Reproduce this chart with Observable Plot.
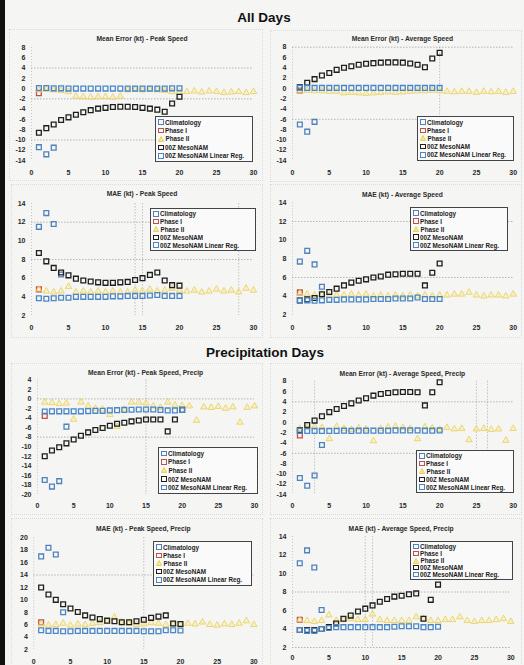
<!DOCTYPE html>
<html><head><meta charset="utf-8">
<script src="https://cdn.jsdelivr.net/npm/d3@7"></script>
<script src="https://cdn.jsdelivr.net/npm/@observablehq/plot@0.6"></script>
<style>
body{margin:0;background:#f5f5f3;width:524px;height:665px;position:relative;overflow:hidden;font-family:"Liberation Sans",Arial,sans-serif;color:#222}
.strip{position:absolute;left:0;top:0;width:5px;height:665px;background:#111}
.sec{position:absolute;font-weight:bold;font-size:13.5px;transform:translate(-50%,-50%);white-space:nowrap;color:#111}
.plot{position:absolute}
.ptitle{position:absolute;font-size:6.7px;font-weight:bold;transform:translate(-50%,-50%);white-space:nowrap;color:#2a2a2a}
.frame{position:absolute;border:1px dotted #dcdcdc}
.legend{position:absolute;border:1px solid #444;background:#fafafa;font-size:6.3px;font-weight:bold;box-sizing:border-box;display:flex;flex-direction:column;justify-content:space-around;padding:1px 2px;color:#1a1a1a}
.li{display:flex;align-items:center;white-space:nowrap;line-height:7px}
.sw{display:inline-block;width:3.5px;height:3.5px;border:1.2px solid;margin-right:1.5px}
.tri{margin-right:1.5px}
</style></head>
<body>
<div class="strip"></div>
<script>
// ---------- data ----------
const xTicks = [0, 5, 10, 15, 20, 25, 30];
const seriesNames = ["Climatology", "Phase I", "Phase II", "00Z MesoNAM", "00Z MesoNAM Linear Reg."];

// All Days – Mean Error, Peak Speed
const mePeakClim = [-11.4, -12.8, -11.5];
const mePeakPhase1 = [-0.9];
const mePeakPhase2 = [-0.3,-0.2,-0.3,-0.4,-0.6,-1.5,-1.6,-1.7,-1.6,-1.6,-1.7,-1.5,-0.3,-0.2,-0.3,-0.2,-0.3,-0.4,-0.6,-0.7,-0.6,-0.5,-0.7,-0.5,-0.6,-0.8,-0.7,-0.6,-0.8,-0.6];
const mePeakMeso = [-8.6,-7.7,-7.0,-6.1,-5.6,-5.1,-4.6,-4.2,-3.9,-3.75,-3.6,-3.55,-3.55,-3.6,-3.75,-3.9,-4.1,-4.5,-2.9,-1.6];
const mePeakLinReg = [0.1,0.1,0.05,0.05,0,0,0,0,0,0,0,0,0,0,0,0,0,0,0.05,0.05];

// All Days – Mean Error, Average Speed
const meAvgClim = [-7.0, -8.4, -6.5];
const meAvgPhase1 = [-0.4];
const meAvgPhase2 = [-0.5,-0.4,-0.5,-0.5,-0.6,-0.6,-0.9,-0.8,-0.9,-1.0,-0.9,-0.8,-0.7,-0.8,-0.7,-0.6,-0.5,-0.5,-0.4,-0.5,-0.6,-0.7,-0.6,-0.6,-0.8,-0.6,-0.7,-0.6,-0.8,-0.6];
const meAvgMeso = [0.25,1.1,1.8,2.5,3.0,3.6,4.0,4.3,4.6,4.8,4.9,5.0,5.05,5.05,5.0,4.85,4.6,4.1,5.8,6.9];
const meAvgLinReg = [0.15,0.1,0.1,0.1,0.1,0.1,0.1,0.1,0.1,0.1,0.1,0.1,0.1,0.1,0.1,0.1,0.1,0.1,0.1,0.1];

// All Days – MAE, Peak Speed
const maePeakClim = [11.5, 12.97, 11.8, 6.4];
const maePeakPhase1 = [4.8];
const maePeakPhase2 = [4.8,4.6,4.5,4.6,5.1,4.5,4.6,4.5,4.6,4.5,4.6,4.5,4.5,4.7,4.6,4.8,4.6,4.7,4.9,4.7,4.6,4.7,4.5,4.6,4.8,4.6,4.7,4.5,4.9,4.7];
const maePeakMeso = [8.7,7.8,7.1,6.6,6.3,5.95,5.75,5.65,5.55,5.5,5.5,5.55,5.6,5.8,6.0,6.35,6.6,5.75,5.25,5.2];
const maePeakLinReg = [3.85,3.8,3.85,3.9,3.9,4.0,4.0,4.0,4.0,4.0,4.05,4.05,4.1,4.1,4.1,4.15,4.2,4.1,4.1,4.1];

// All Days – MAE, Average Speed
const maeAvgClim = [7.7, 8.85, 7.4, 5.0];
const maeAvgPhase1 = [4.4];
const maeAvgPhase2 = [4.3,4.2,4.1,4.2,4.0,4.1,4.1,4.2,4.1,4.2,4.0,4.1,4.0,4.1,4.0,4.1,4.0,4.1,4.0,4.1,4.1,4.2,4.2,4.4,4.1,4.0,4.1,4.1,4.0,4.2];
const maeAvgMeso = [3.55,3.65,3.8,4.2,4.45,4.8,5.15,5.45,5.65,5.8,6.0,6.1,6.3,6.35,6.4,6.4,6.4,5.15,6.5,7.5];
const maeAvgLinReg = [3.55,3.55,3.5,3.55,3.6,3.6,3.65,3.65,3.65,3.65,3.7,3.7,3.7,3.75,3.75,3.75,3.85,3.7,3.7,3.7];

// Precipitation Days – Mean Error, Peak Speed
const mePeakPrClim = [-16.95, -18.35, -17.2, -5.8];
const mePeakPrPhase1 = [-3.55];
const mePeakPrPhase2 = [-0.7,-0.8,-1.0,-0.9,-4.3,-0.7,-1.5,-2.0,-2.2,-3.3,-5.8,-2.2,-0.7,-0.7,-0.9,-1.5,-1.8,-0.7,-1.3,-1.4,-1.5,-4.5,-1.7,-1.8,-1.6,-2.0,-1.7,-4.9,-1.8,-1.5];
const mePeakPrMeso = [-12.0,-10.8,-10.1,-9.3,-8.5,-7.7,-7.0,-6.5,-6.1,-5.6,-5.2,-5.0,-4.7,-4.5,-4.3,-4.3,-4.3,-6.8,-4.3,-2.3];
const mePeakPrLinReg = [-2.65,-2.6,-2.6,-2.6,-2.6,-2.6,-2.55,-2.5,-2.5,-2.4,-2.35,-2.3,-2.25,-2.2,-2.2,-2.2,-2.3,-2.4,-2.4,-2.3];

// Precipitation Days – Mean Error, Average Speed
const meAvgPrClim = [-10.8, -12.3, -10.3, -4.4];
const meAvgPrPhase1 = [-2.55];
const meAvgPrPhase2 = [-1.2,-0.9,-0.8,-1.0,-3.2,-0.8,-1.2,-1.4,-1.1,-1.3,-3.6,-1.2,-0.9,-0.8,-1.0,-1.2,-3.2,-0.9,-1.1,-1.4,-1.0,-1.3,-1.2,-3.4,-1.3,-1.2,-1.4,-1.3,-3.5,-1.2];
const meAvgPrMeso = [-1.5,-0.5,0.35,1.2,2.0,2.6,3.2,3.7,4.25,4.7,5.2,5.5,5.7,5.85,5.9,5.9,5.85,3.3,5.85,7.8];
const meAvgPrLinReg = [-1.6,-1.65,-1.65,-1.65,-1.65,-1.65,-1.6,-1.65,-1.6,-1.6,-1.6,-1.6,-1.6,-1.55,-1.55,-1.55,-1.55,-1.6,-1.6,-1.55];

// Precipitation Days – MAE, Peak Speed
const maePeakPrClim = [17.0, 18.4, 17.3, 8.0];
const maePeakPrPhase1 = [6.4];
const maePeakPrPhase2 = [6.1,5.9,6.0,6.2,5.9,6.1,6.0,6.2,6.3,6.5,7.2,6.4,6.2,6.0,6.1,6.3,6.2,6.0,6.1,6.0,6.2,6.1,6.4,6.0,5.9,6.1,6.0,6.2,6.6,6.0];
const maePeakPrMeso = [12.0,10.85,10.0,9.3,8.6,8.05,7.5,7.15,6.9,6.65,6.55,6.4,6.4,6.55,6.8,7.1,7.3,7.5,6.2,6.1];
const maePeakPrLinReg = [5.1,5.0,5.0,4.95,4.95,5.0,5.0,5.0,5.0,5.0,5.0,5.0,5.0,5.0,4.95,4.95,4.95,5.1,5.1,5.05];

// Precipitation Days – MAE, Average Speed
const maeAvgPrClim = [11.1, 12.5, 10.65, 6.05];
const maeAvgPrPhase1 = [5.0];
const maeAvgPrPhase2 = [5.0,4.9,4.8,4.9,5.5,4.9,5.0,5.1,5.0,5.0,5.6,5.0,4.9,4.9,4.9,4.9,5.3,5.1,4.9,4.9,5.0,5.0,5.3,4.9,4.8,4.9,4.9,5.0,5.1,4.8];
const maeAvgPrMeso = [3.9,3.9,3.9,4.0,4.2,4.6,5.1,5.45,5.9,6.2,6.55,6.95,7.25,7.5,7.6,7.75,7.85,5.1,7.15,8.8];
const maeAvgPrLinReg = [3.9,3.8,3.8,4.0,4.1,4.2,4.2,4.2,4.2,4.2,4.2,4.2,4.2,4.25,4.3,4.3,4.3,4.2,4.2,4.25];

// ---------- layout ----------
const sections = [
  {text: "All Days", x: 264, y: 17},
  {text: "Precipitation Days", x: 265, y: 352}
];
const panels = [
  {title:"Mean Error (kt) - Peak Speed", titleY:38, left:5, top:40, width:255, height:138, ml:26, mr:7, mt:7, mb:18, pad:10,
   y:[-14,8], step:2, legend:[155,116,98,46], gridY:[4,-2,-10], gridX:[], frame:[9,29,252,150],
   d:[mePeakClim, mePeakPhase1, mePeakPhase2, mePeakMeso, mePeakLinReg]},
  {title:"Mean Error (kt) - Average Speed", titleY:38, left:265, top:40, width:255, height:138, ml:27, mr:7.3, mt:6.7, mb:18, pad:10,
   y:[-14,8], step:2, legend:[417,116,97,45], gridY:[8,-6], gridX:[20], frame:[270,30,250,150],
   d:[meAvgClim, meAvgPhase1, meAvgPhase2, meAvgMeso, meAvgLinReg]},
  {title:"MAE (kt) - Peak Speed", titleY:193, left:5, top:196, width:255, height:137, ml:26, mr:7, mt:7, mb:18, pad:10,
   y:[2,14], step:2, legend:[150,208,106,43], gridY:[12,8], gridX:[14,15,28], frame:[11,184,250,152],
   d:[maePeakClim, maePeakPhase1, maePeakPhase2, maePeakMeso, maePeakLinReg]},
  {title:"MAE (kt) - Average Speed", titleY:194, left:265, top:196, width:255, height:136, ml:27, mr:7.3, mt:6.3, mb:17.7, pad:10,
   y:[2,14], step:2, legend:[410,207,98,44], gridY:[12,6], gridX:[], frame:[270,184,250,152],
   d:[maeAvgClim, maeAvgPhase1, maeAvgPhase2, maeAvgMeso, maeAvgLinReg]},
  {title:"Mean Error (kt) - Peak Speed, Precip", titleY:372, left:5, top:373, width:255, height:138, ml:32, mr:6, mt:6.3, mb:17, pad:9,
   y:[-20,4], step:2, legend:[158,447,100,47], gridY:[0,-8], gridX:[15], frame:[11,363,250,150],
   d:[mePeakPrClim, mePeakPrPhase1, mePeakPrPhase2, mePeakPrMeso, mePeakPrLinReg]},
  {title:"Mean Error (kt) - Average Speed, Precip", titleY:373, left:265, top:374, width:255, height:137, ml:27, mr:7.3, mt:6.7, mb:17, pad:9,
   y:[-14,8], step:2, legend:[416,450,98,43], gridY:[4,-6], gridX:[3,25,26.5], frame:[270,363,250,150],
   d:[meAvgPrClim, meAvgPrPhase1, meAvgPrPhase2, meAvgPrMeso, meAvgPrLinReg]},
  {title:"MAE (kt) - Peak Speed, Precip", titleY:528, left:5, top:531, width:255, height:136, ml:28.3, mr:6.7, mt:6.3, mb:18, pad:10,
   y:[2,20], step:2, legend:[153,541,99,45], gridY:[14], gridX:[15], frame:[11,518,250,150],
   d:[maePeakPrClim, maePeakPrPhase1, maePeakPrPhase2, maePeakPrMeso, maePeakPrLinReg]},
  {title:"MAE (kt) - Average Speed, Precip", titleY:528, left:265, top:530, width:255, height:133, ml:27, mr:9.7, mt:6, mb:16, pad:8,
   y:[2,14], step:2, legend:[410,541,103,39], gridY:[8,2], gridX:[10,11], frame:[270,518,250,146],
   d:[maeAvgPrClim, maeAvgPrPhase1, maeAvgPrPhase2, maeAvgPrMeso, maeAvgPrLinReg]}
];

const colors = {clim:"#4f81bd", phase1:"#c0504d", phase2:"#e9cb45", meso:"#1e1e1e", lin:"#4a86c8"};
const rows = (arr) => arr.map((v, i) => ({day: i + 1, value: v}));

for (const s of sections) {
  const el = document.createElement("div");
  el.className = "sec"; el.textContent = s.text;
  el.style.left = s.x + "px"; el.style.top = s.y + "px";
  document.body.appendChild(el);
}

for (const p of panels) {
  const fr = document.createElement("div");
  fr.className = "frame";
  fr.style.left = p.frame[0] + "px"; fr.style.top = p.frame[1] + "px";
  fr.style.width = p.frame[2] + "px"; fr.style.height = p.frame[3] + "px";
  document.body.appendChild(fr);

  const yTicks = d3.range(p.y[0], p.y[1] + 0.001, p.step);
  const [clim, ph1, ph2, meso, lin] = p.d;
  const sq = {x:"day", y:"value", symbol:"square", r:2.7, fill:"none", strokeWidth:1.3};
  const chart = Plot.plot({
    width: p.width, height: p.height,
    marginLeft: p.ml, marginRight: p.mr, marginTop: p.mt, marginBottom: p.mb,
    style: {background:"transparent", fontFamily:"'Liberation Sans', Arial, sans-serif", fontSize:"7px", fontWeight:"bold", color:"#2a2a2a", overflow:"visible"},
    x: {domain:[0,30], label:null},
    y: {domain:p.y, label:null},
    marks: [
      Plot.ruleY(p.gridY, {stroke:"#777", strokeOpacity:0.5, strokeDasharray:"1.5,1.5"}),
      Plot.ruleX(p.gridX, {stroke:"#777", strokeOpacity:0.4, strokeDasharray:"1.5,1.5"}),
      Plot.ruleX([0], {stroke:"#999", strokeOpacity:0.5, strokeDasharray:"1,2"}),
      Plot.axisX({ticks:xTicks, tickSize:0, tickPadding:p.pad, tickFormat:d => String(d)}),
      Plot.axisY({ticks:yTicks, tickSize:0, tickPadding:6, tickFormat:d => String(d)}),
      Plot.dot(rows(clim), {...sq, stroke:colors.clim}),
      Plot.dot(rows(ph1), {...sq, stroke:colors.phase1}),
      Plot.dot(rows(ph2), {x:"day", y:"value", symbol:"triangle", r:2.4, stroke:colors.phase2, fill:"#f6ea9e", fillOpacity:0.45, strokeWidth:1, strokeOpacity:0.7}),
      Plot.dot(rows(meso), {...sq, stroke:colors.meso}),
      Plot.dot(rows(lin), {...sq, stroke:colors.lin})
    ]
  });
  chart.classList.add("plot");
  chart.style.left = p.left + "px"; chart.style.top = p.top + "px";
  document.body.appendChild(chart);

  const t = document.createElement("div");
  t.className = "ptitle"; t.textContent = p.title;
  t.style.left = (p.left + p.ml + (p.width - p.ml - p.mr) / 2) + "px";
  t.style.top = p.titleY + "px";
  document.body.appendChild(t);

  const lg = document.createElement("div");
  lg.className = "legend";
  lg.style.left = p.legend[0] + "px"; lg.style.top = p.legend[1] + "px";
  lg.style.width = p.legend[2] + "px"; lg.style.height = p.legend[3] + "px";
  const swc = [colors.clim, colors.phase1, colors.phase2, colors.meso, colors.lin];
  seriesNames.forEach((name, i) => {
    const li = document.createElement("div");
    li.className = "li";
    if (i === 2) {
      li.innerHTML = `<svg class="tri" width="6" height="6" viewBox="0 0 6 6"><path d="M3 0.6 L5.6 5.4 L0.4 5.4 Z" fill="#f6ea9e" stroke="${swc[i]}" stroke-width="0.9"/></svg>`;
    } else {
      li.innerHTML = `<span class="sw" style="border-color:${swc[i]}"></span>`;
    }
    li.appendChild(document.createTextNode(name));
    lg.appendChild(li);
  });
  document.body.appendChild(lg);
}
</script>
</body></html>
